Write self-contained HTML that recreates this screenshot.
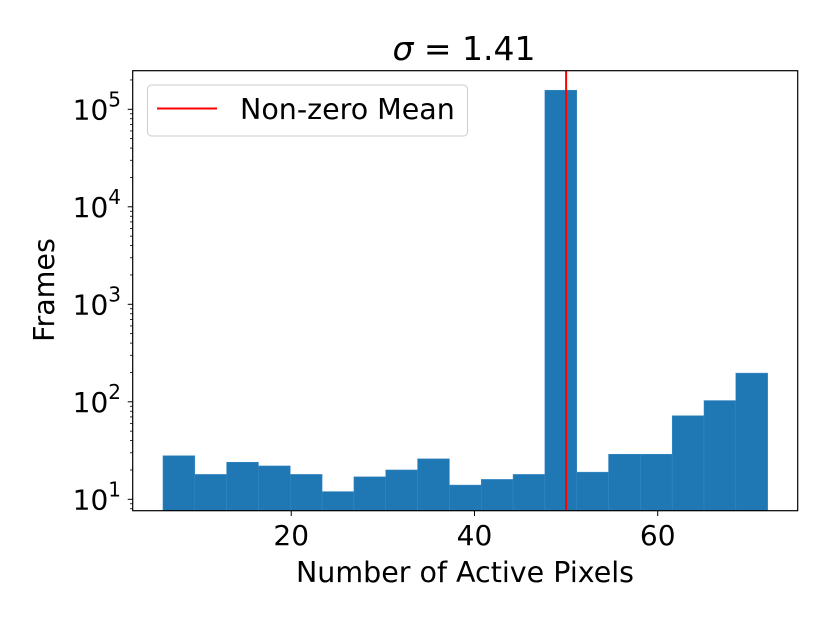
<!DOCTYPE html>
<html><head><meta charset="utf-8"><style>
html,body{margin:0;padding:0;background:#fff;}
svg{display:block;font-family:"DejaVu Sans","Liberation Sans",sans-serif;}
</style></head><body>
<svg id="chart" width="830" height="622" viewBox="0 0 830 622">
<text x="464" y="60" font-size="33" text-anchor="middle" fill="#000"><tspan font-style="italic">σ</tspan> = 1.41</text>
<g id="bars"></g>
<g id="yticks"></g>
<g id="xticks"></g>
<line id="meanline" stroke="#ff0000" stroke-width="2"/>
<rect x="132.7" y="70.7" width="665" height="440" fill="none" stroke="#000" stroke-width="1.2"/>
<text x="465" y="582" font-size="28.5" text-anchor="middle" fill="#000">Number of Active Pixels</text>
<text x="0" y="0" font-size="28.5" text-anchor="middle" fill="#000" transform="translate(54,290) rotate(-90)">Frames</text>
<g>
<rect x="147.5" y="85" width="320" height="51" rx="4" fill="#fff" fill-opacity="0.8" stroke="#ccc" stroke-width="1"/>
<line x1="157" y1="108.5" x2="217" y2="108.5" stroke="#ff0000" stroke-width="2"/>
<text x="240" y="119" font-size="28.5" fill="#000">Non-zero Mean</text>
</g>
</svg>
<script>
const binStart = 6;
const binEnd = 72;
const counts = [28, 18, 24, 22, 18, 12, 17, 20, 26, 14, 16, 18, 157000, 19, 29, 29, 72, 103, 197];
const meanValue = 50;
const xTicks = [20, 40, 60];
const yTicks = [1, 2, 3, 4, 5];

const NS = "http://www.w3.org/2000/svg";
const PX0 = 108, PXS = 9.162;
const x = v => PX0 + v * PXS;
const Y1 = 499.3, DEC = 97.5, YB = 510.7;
const y = v => Y1 - DEC * (Math.log10(v) - 1);
function mk(tag, attrs, parent) {
  const e = document.createElementNS(NS, tag);
  for (const k in attrs) e.setAttribute(k, attrs[k]);
  parent.appendChild(e);
  return e;
}
const bars = document.getElementById('bars');
const w = (binEnd - binStart) / counts.length;
counts.forEach((c, i) => {
  const x0 = x(binStart + i * w), x1 = x(binStart + (i + 1) * w);
  const r = mk('rect', {x: x0, y: y(c), width: x1 - x0, height: YB - y(c), fill: '#1f77b4', stroke: '#3a89c0', 'stroke-width': 0.5}, bars);
  
  
});
const yt = document.getElementById('yticks');
yTicks.forEach(p => {
  const yy = y(Math.pow(10, p));
  mk('line', {x1: 127.7, x2: 132.7, y1: yy, y2: yy, stroke: '#000', 'stroke-width': 1}, yt);
  const t = mk('text', {x: 121, y: yy + 10, 'font-size': 28, 'text-anchor': 'end', fill: '#000'}, yt);
  
  
  t.innerHTML = '10<tspan dy="-13" font-size="20">' + p + '</tspan>';
});
for (let p = 0; p <= 5; p++) {
  for (let m = 2; m <= 9; m++) {
    const v = m * Math.pow(10, p);
    const yy = y(v);
    if (yy < 70.7 || yy > 510.7) continue;
    mk('line', {x1: 130, x2: 132.7, y1: yy, y2: yy, stroke: '#000', 'stroke-width': 0.8}, yt);
  }
}
const xt = document.getElementById('xticks');
xTicks.forEach(v => {
  mk('line', {x1: x(v), x2: x(v), y1: 510.7, y2: 516, stroke: '#000', 'stroke-width': 1}, xt);
  const t = mk('text', {x: x(v), y: 545, 'font-size': 28, 'text-anchor': 'middle', fill: '#000'}, xt);
  
  
  t.textContent = v;
});
const ml = document.getElementById('meanline');
ml.setAttribute('x1', x(meanValue)); ml.setAttribute('x2', x(meanValue));
ml.setAttribute('y1', 70.7); ml.setAttribute('y2', 510.7);
</script>
</body></html>
